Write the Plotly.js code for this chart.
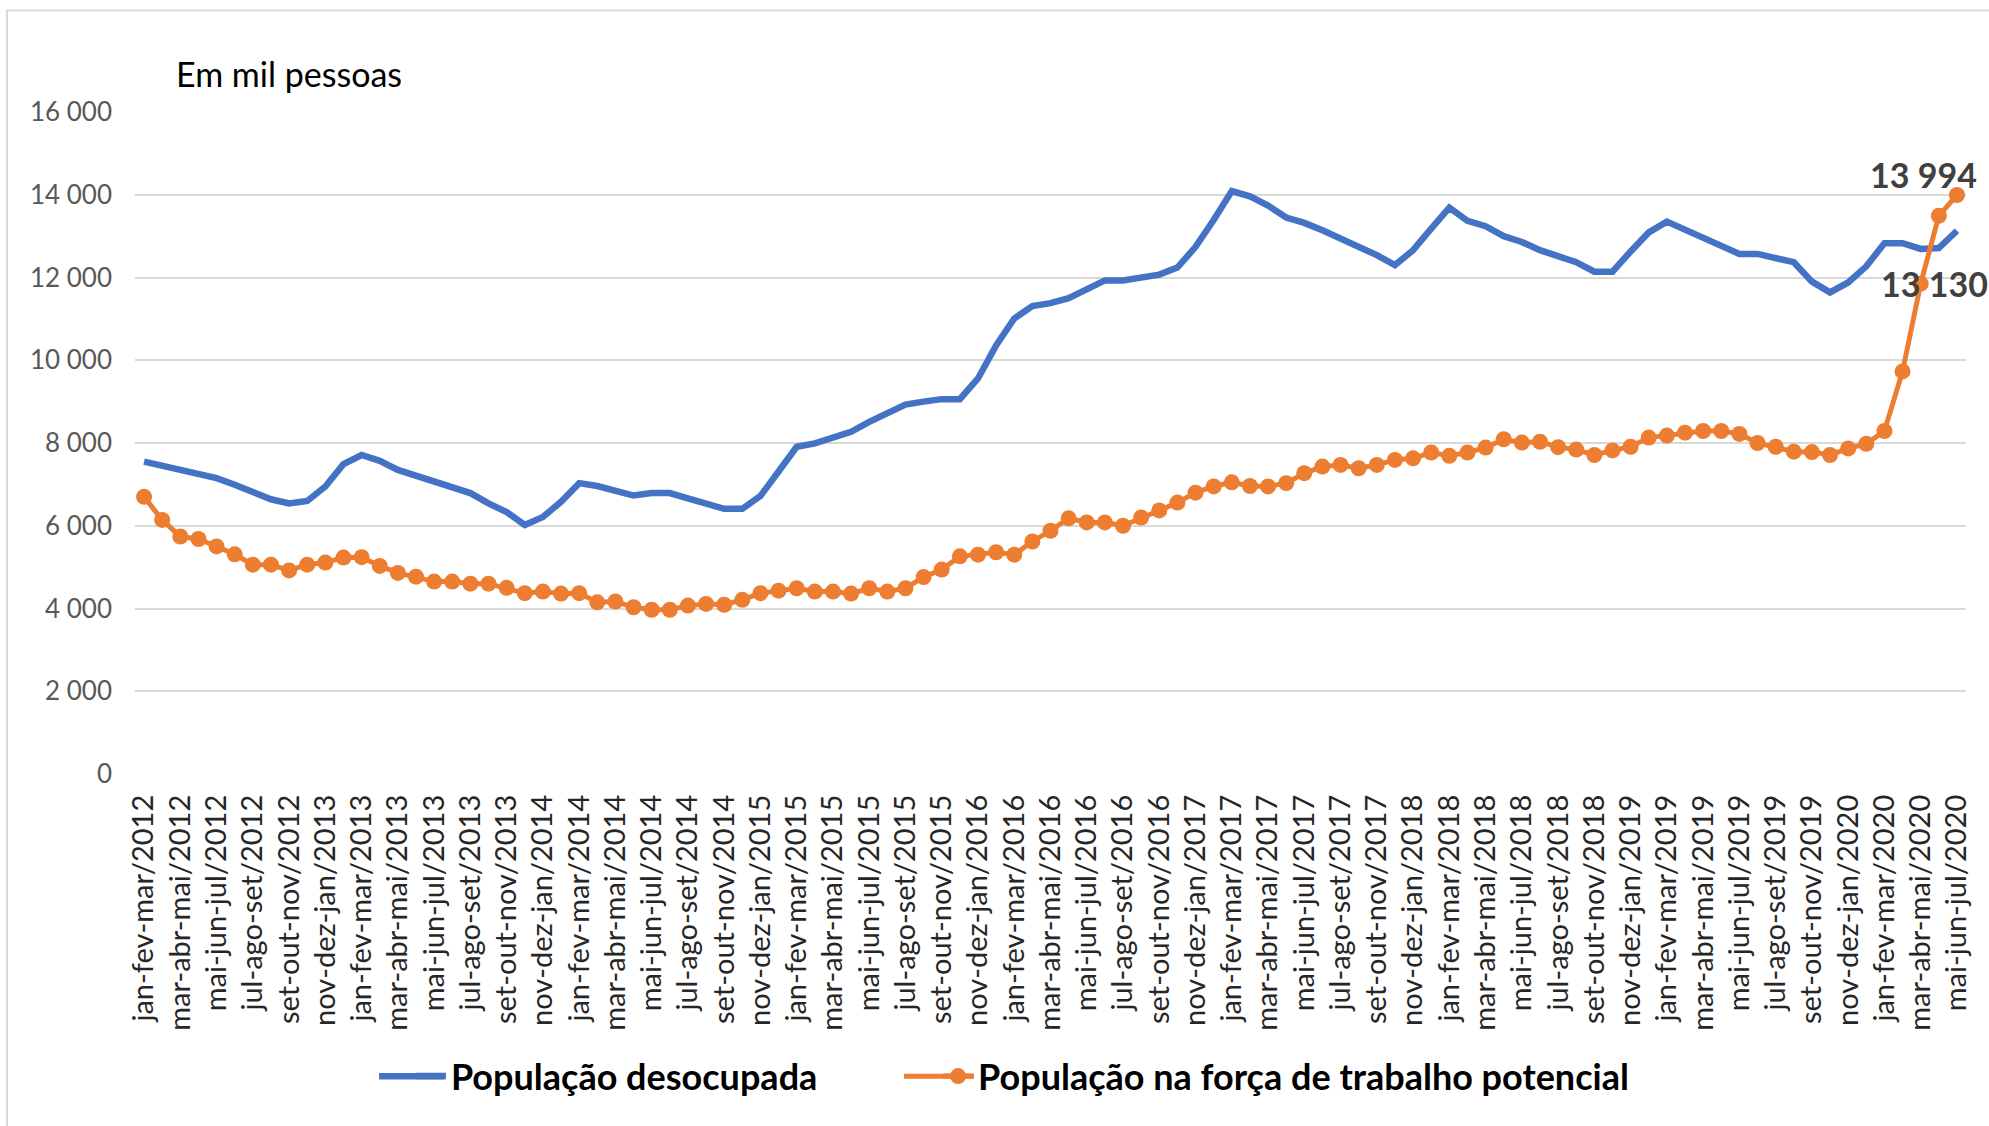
<!DOCTYPE html>
<html>
<head>
<meta charset="utf-8">
<script src="https://cdn.plot.ly/plotly-3.0.1.min.js"></script>
<style>html,body{margin:0;padding:0;background:#fff;}#chart{width:1989px;height:1126px;}</style>
</head>
<body>
<div id="chart"></div>
<script>
const categories = [
  "jan-fev-mar/2012","fev-mar-abr/2012","mar-abr-mai/2012","abr-mai-jun/2012","mai-jun-jul/2012","jun-jul-ago/2012","jul-ago-set/2012","ago-set-out/2012","set-out-nov/2012","out-nov-dez/2012","nov-dez-jan/2013","dez-jan-fev/2013",
  "jan-fev-mar/2013","fev-mar-abr/2013","mar-abr-mai/2013","abr-mai-jun/2013","mai-jun-jul/2013","jun-jul-ago/2013","jul-ago-set/2013","ago-set-out/2013","set-out-nov/2013","out-nov-dez/2013","nov-dez-jan/2014","dez-jan-fev/2014",
  "jan-fev-mar/2014","fev-mar-abr/2014","mar-abr-mai/2014","abr-mai-jun/2014","mai-jun-jul/2014","jun-jul-ago/2014","jul-ago-set/2014","ago-set-out/2014","set-out-nov/2014","out-nov-dez/2014","nov-dez-jan/2015","dez-jan-fev/2015",
  "jan-fev-mar/2015","fev-mar-abr/2015","mar-abr-mai/2015","abr-mai-jun/2015","mai-jun-jul/2015","jun-jul-ago/2015","jul-ago-set/2015","ago-set-out/2015","set-out-nov/2015","out-nov-dez/2015","nov-dez-jan/2016","dez-jan-fev/2016",
  "jan-fev-mar/2016","fev-mar-abr/2016","mar-abr-mai/2016","abr-mai-jun/2016","mai-jun-jul/2016","jun-jul-ago/2016","jul-ago-set/2016","ago-set-out/2016","set-out-nov/2016","out-nov-dez/2016","nov-dez-jan/2017","dez-jan-fev/2017",
  "jan-fev-mar/2017","fev-mar-abr/2017","mar-abr-mai/2017","abr-mai-jun/2017","mai-jun-jul/2017","jun-jul-ago/2017","jul-ago-set/2017","ago-set-out/2017","set-out-nov/2017","out-nov-dez/2017","nov-dez-jan/2018","dez-jan-fev/2018",
  "jan-fev-mar/2018","fev-mar-abr/2018","mar-abr-mai/2018","abr-mai-jun/2018","mai-jun-jul/2018","jun-jul-ago/2018","jul-ago-set/2018","ago-set-out/2018","set-out-nov/2018","out-nov-dez/2018","nov-dez-jan/2019","dez-jan-fev/2019",
  "jan-fev-mar/2019","fev-mar-abr/2019","mar-abr-mai/2019","abr-mai-jun/2019","mai-jun-jul/2019","jun-jul-ago/2019","jul-ago-set/2019","ago-set-out/2019","set-out-nov/2019","out-nov-dez/2019","nov-dez-jan/2020","dez-jan-fev/2020",
  "jan-fev-mar/2020","fev-mar-abr/2020","mar-abr-mai/2020","abr-mai-jun/2020","mai-jun-jul/2020"
];

const desocupada = [
  7550,7450,7350,7230,7150,6990,6810,6640,6540,6600,6950,7490,
  7710,7570,7350,7210,7080,6910,6790,6540,6330,6020,6210,6580,
  7030,6960,6850,6730,6790,6790,6660,6540,6410,6410,6720,7310,
  7910,7990,8110,8270,8510,8720,8930,9000,9060,9060,9560,10360,
  11010,11310,11380,11500,11720,11930,11930,11990,12070,12240,12740,13390,
  14090,13960,13740,13450,13320,13140,12940,12750,12540,12300,12660,13180,
  13690,13370,13240,13000,12860,12660,12500,12370,12140,12140,12630,13090,
  13350,13150,12930,12750,12570,12570,12490,12370,11900,11640,11880,12270,
  12830,12830,12690,12710,13130
];

const forcaPotencial = [
  6700,6140,5740,5680,5500,5310,5060,5060,4920,5060,5110,5230,
  5240,5030,4860,4770,4650,4650,4600,4600,4500,4370,4410,4360,
  4370,4150,4170,4030,3970,3970,4070,4110,4090,4210,4370,4430,
  4490,4410,4410,4360,4490,4410,4490,4760,4940,5260,5300,5360,
  5300,5620,5880,6180,6080,6080,6000,6200,6370,6560,6800,6950,
  7050,6960,6950,7030,7270,7430,7470,7390,7470,7590,7630,7770,
  7690,7770,7890,8090,8010,8030,7900,7840,7710,7820,7910,8130,
  8180,8250,8290,8290,8220,8000,7910,7790,7780,7710,7870,7980,
  8290,9730,11850,13490,13994
];

const seriesNames = ["População desocupada", "População na força de trabalho potencial"];
const yTickValues = [0, 2000, 4000, 6000, 8000, 10000, 12000, 14000, 16000];
const tickLabels = categories.filter((c, i) => i % 2 === 0);

const FONT = "Lato, 'Open Sans', sans-serif";
const BLUE = "#4472C4", ORANGE = "#ED7D31";
const n = categories.length;

const traces = [
  {
    x: categories, y: desocupada, name: seriesNames[0], type: "scatter", mode: "lines",
    line: {color: BLUE, width: 6.5}, legend: "legend"
  },
  {
    x: categories, y: forcaPotencial, name: seriesNames[1], type: "scatter", mode: "lines+markers",
    line: {color: ORANGE, width: 5}, marker: {color: ORANGE, size: 16}, legend: "legend2"
  }
];

const LEGEND_Y = -0.4564;

const layout = {
  width: 1989, height: 1126,
  margin: {l: 135, r: 23, t: 112, b: 352},
  paper_bgcolor: "#ffffff", plot_bgcolor: "#ffffff",
  separators: ", ",
  font: {family: FONT},
  title: {
    text: "Em mil pessoas",
    font: {family: FONT, size: 34, color: "#000000"},
    xref: "paper", x: 0.0224, xanchor: "left",
    yref: "container", y: 0.933, yanchor: "middle"
  },
  xaxis: {
    type: "category", range: [-0.5, n - 0.5], autorange: false,
    tickmode: "array", tickvals: tickLabels, ticktext: tickLabels,
    tickangle: -90, ticks: "", showgrid: false, showline: false, zeroline: false,
    ticklabelstandoff: 14,
    tickfont: {family: FONT, size: 29, color: "#262626"}
  },
  yaxis: {
    range: [0, 16000], autorange: false, tickmode: "array", tickvals: yTickValues,
    tickformat: ",d", showgrid: true, gridcolor: "#d9d9d9", gridwidth: 2,
    zeroline: false, showline: false, ticks: "", ticklabelstandoff: 22,
    tickfont: {family: FONT, size: 26, color: "#595959"}
  },
  showlegend: true,
  legend: {
    orientation: "h", x: 0.1507, xanchor: "left", y: LEGEND_Y, yanchor: "middle",
    font: {family: FONT, size: 36, color: "#000000", weight: "bold"}, bgcolor: "rgba(0,0,0,0)"
  },
  legend2: {
    orientation: "h", x: 0.4386, xanchor: "left", y: LEGEND_Y, yanchor: "middle",
    font: {family: FONT, size: 36, color: "#000000", weight: "bold"}, bgcolor: "rgba(0,0,0,0)"
  },
  annotations: [
    {
      x: categories[n - 1], y: forcaPotencial[n - 1], xref: "x", yref: "y",
      text: forcaPotencial[n - 1].toLocaleString("pt-BR").replace(/\./g, " "),
      showarrow: false, xshift: -33, yshift: 21,
      font: {family: FONT, size: 34, color: "#404040", weight: "bold"}
    },
    {
      x: categories[n - 1], y: desocupada[n - 1], xref: "x", yref: "y",
      text: desocupada[n - 1].toLocaleString("pt-BR").replace(/\./g, " "),
      showarrow: false, xshift: -22, yshift: -53,
      font: {family: FONT, size: 34, color: "#404040", weight: "bold"}
    }
  ],
  shapes: [
    {
      type: "rect", xref: "paper", yref: "paper", layer: "below",
      x0: -0.0699, x1: 1.3, y0: -1, y1: 1.1534,
      line: {color: "#d9d9d9", width: 2}, fillcolor: "rgba(0,0,0,0)"
    },
    {
      type: "line", xref: "paper", yref: "paper", layer: "above",
      x0: 0.1333, x1: 0.1688, y0: LEGEND_Y, y1: LEGEND_Y,
      line: {color: BLUE, width: 6.5}
    },
    {
      type: "line", xref: "paper", yref: "paper", layer: "above",
      x0: 0.42, x1: 0.4582, y0: LEGEND_Y, y1: LEGEND_Y,
      line: {color: ORANGE, width: 5}
    }
  ]
};

Plotly.newPlot("chart", traces, layout, {displayModeBar: false, staticPlot: true});
</script>
</body>
</html>
